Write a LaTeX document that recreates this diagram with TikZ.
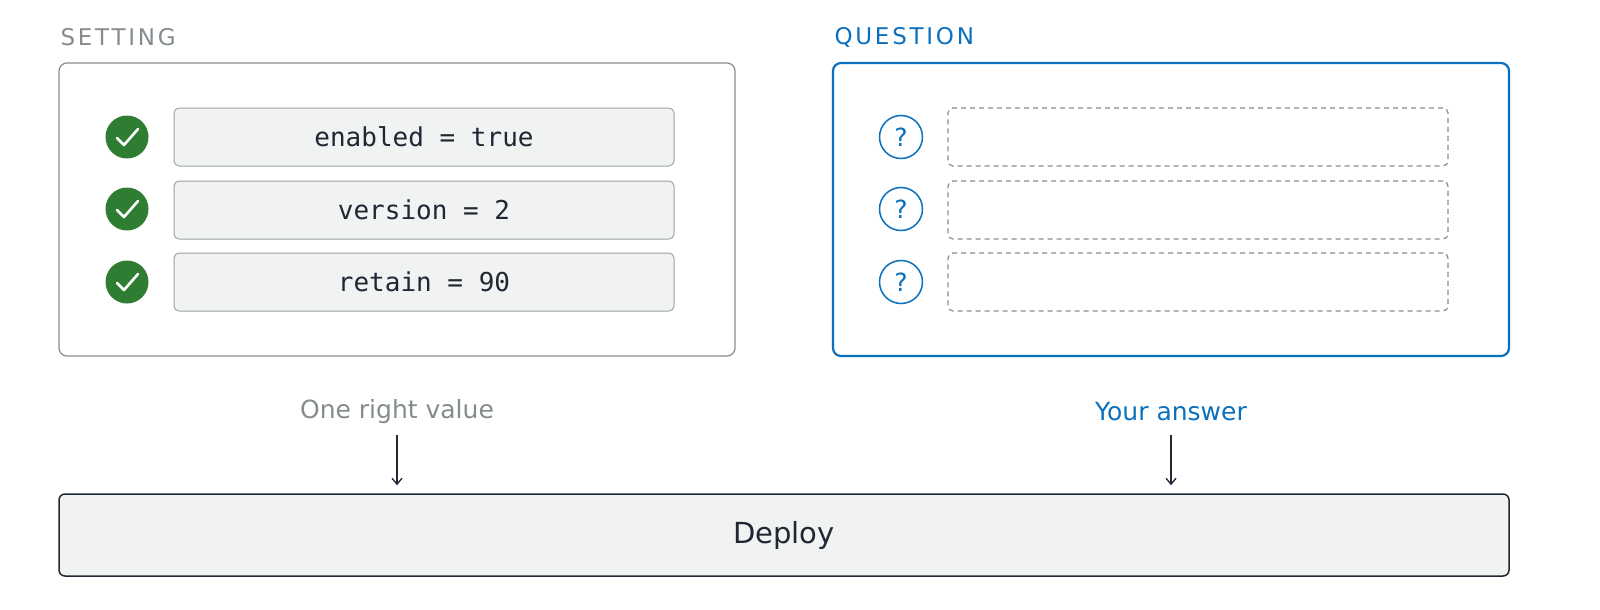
\documentclass[tikz,border=0pt]{standalone}
\usepackage{fontspec}
\setmainfont{DejaVu Sans}
\setmonofont{DejaVu Sans Mono}
\usetikzlibrary{arrows.meta}
\definecolor{gr}{HTML}{858C90}
\definecolor{bl}{HTML}{0B70BD}
\definecolor{dk}{HTML}{1F2733}
\definecolor{lf}{HTML}{F1F3F3}
\definecolor{gn}{HTML}{2E7D32}
\tikzset{
 panel/.style={draw=gr,line width=1.2pt,rounded corners=8pt},
 row/.style={draw=gr!80,fill=lf,line width=1pt,rounded corners=5pt,minimum width=500pt,minimum height=58pt,font=\ttfamily\fontsize{26}{29}\selectfont,text=dk},
 dashrow/.style={draw=gr,dash pattern=on 5pt off 4pt,line width=1.2pt,rounded corners=5pt,minimum width=500pt,minimum height=58pt},
 chk/.style={circle,fill=gn,minimum size=43pt,inner sep=0pt},
 qm/.style={circle,draw=bl,line width=1.5pt,minimum size=43pt,inner sep=0pt,text=bl,font=\fontsize{25}{28}\selectfont},
 lbl/.style={font=\fontsize{25}{28}\selectfont},
 arr/.style={draw=dk,line width=1.3pt,-{Straight Barb[length=6pt,width=10pt]}}
}
\begin{document}
\begin{tikzpicture}[x=1pt,y=-1pt]
\fill[white] (0,0) rectangle (1600,610);
\useasboundingbox (0,0) rectangle (1600,610);
\node[anchor=west,text=gr,font=\fontsize{23}{26}\selectfont\addfontfeatures{LetterSpace=12}] (st) at (57,37) {SETTING};
\node[anchor=west,text=bl,font=\fontsize{23}{26}\selectfont\addfontfeatures{LetterSpace=12}] (qu) at (831,37) {QUESTION};
\draw[panel] (59,63) rectangle (735,356);
\draw[panel,draw=bl,line width=2.2pt] (833,63) rectangle (1509,356);
\node[row] (r1) at (424,137) {enabled = true};
\node[row] (r2) at (424,210) {version = 2};
\node[row] (r3) at (424,282) {retain = 90};
\foreach \y/\n in {137/c1,209/c2,282/c3}{
 \node[chk] (\n) at (127,\y) {};
 \draw[white,line width=2.6pt,line cap=round,line join=round] (117,\y+1) -- (124,\y+8) -- (138,\y-8);
}
\foreach \y/\n in {137/q1,209/q2,282/q3}{
 \node[qm] (\n) at (901,\y) {?};
}
\node[dashrow] (d1) at (1198,137) {};
\node[dashrow] (d2) at (1198,210) {};
\node[dashrow] (d3) at (1198,282) {};
\node[lbl,text=gr] (l1) at (397,412) {One right value};
\node[lbl,text=bl] (l2) at (1171,412) {Your answer};
\node[draw=dk,fill=lf,line width=1.5pt,rounded corners=6pt,minimum width=1450pt,minimum height=82pt,text=dk,font=\fontsize{29}{33}\selectfont] (dep) at (784,535) {Deploy};
\coordinate (a1) at (397,435);
\coordinate (a2) at (1171,435);
\draw[arr] (a1) -- ([yshift=8pt]a1 |- dep.north);
\draw[arr] (a2) -- ([yshift=8pt]a2 |- dep.north);
\end{tikzpicture}
\end{document}
